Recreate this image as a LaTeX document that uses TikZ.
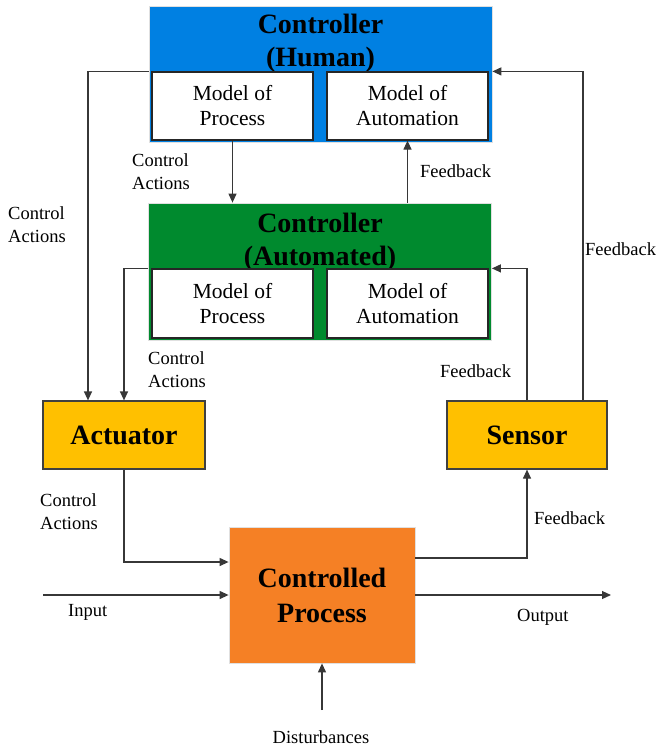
\documentclass[tikz,border=0pt]{standalone}
\usepackage{fontspec}
\setmainfont{Liberation Serif}
\usetikzlibrary{arrows.meta,positioning}

\definecolor{humanblue}{RGB}{0,128,226}
\definecolor{autogreen}{RGB}{0,138,46}
\definecolor{unitgold}{RGB}{255,192,0}
\definecolor{plantorange}{RGB}{245,128,37}
\definecolor{wire}{RGB}{55,55,55}

\tikzset{
  ctrlbox/.style   = {draw=black!12, line width=0.8pt, minimum width=343pt, minimum height=136pt},
  titletext/.style = {align=center, font=\bfseries\fontsize{28}{33}\selectfont},
  modelbox/.style  = {draw=black!85, line width=1.2pt, fill=white, minimum width=161pt,
                      minimum height=68pt, align=center, font=\fontsize{21.5}{25}\selectfont},
  unitbox/.style   = {draw=black!75, line width=1.2pt, fill=unitgold, minimum width=162pt,
                      minimum height=68pt, font=\bfseries\fontsize{28}{33}\selectfont},
  note/.style      = {anchor=west, align=left, inner sep=0pt, font=\fontsize{18.5}{23}\selectfont},
  arr/.style       = {draw=wire, line width=1.2pt, -{Triangle[length=9pt,width=8pt]}},
  wireline/.style  = {draw=wire, line width=1.2pt}
}

\begin{document}
\begin{tikzpicture}[x=1pt,y=-1pt]
        \useasboundingbox (0,0) rectangle (657,753);

        % Controller (Human)
        \node[ctrlbox, fill=humanblue]  (human)      at (320.5, 74)   {};
        \node[titletext]                (humantitle) at (320.5, 43)   {Controller\\(Human)};
        \node[modelbox]                 (hproc)      at (232.5,106)   {Model of\\Process};
        \node[modelbox]                 (hauto)      at (407.5,106)   {Model of\\Automation};

        % Controller (Automated)
        \node[ctrlbox, fill=autogreen, minimum height=137pt] (auto) at (320,271.5) {};
        \node[titletext]                (autotitle)  at (320, 242)    {Controller\\(Automated)};
        \node[modelbox, minimum height=69pt] (aproc) at (232.5,303.5) {Model of\\Process};
        \node[modelbox, minimum height=69pt] (aauto) at (407.5,303.5) {Model of\\Automation};

        % Actuator, sensor, process
        \node[unitbox]                  (act)        at (124, 435)    {Actuator};
        \node[unitbox, minimum width=160pt] (sens)   at (527, 435)    {Sensor};
        \node[draw=black!12, line width=0.8pt, fill=plantorange, minimum width=186pt,
              minimum height=136pt, align=center,
              font=\bfseries\fontsize{28}{35}\selectfont] (proc) at (322,595) {Controlled\\Process};

        % free ends
        \coordinate (leftbus)  at ( 88, 73);
        \coordinate (rightbus) at (583, 74);
        \coordinate (input)    at ( 43,595);
        \coordinate (output)   at (611,595);
        \coordinate (disturb)  at (322,710);

        % control actions
        \draw[arr] (hproc.south) -- (hproc.south |- auto.north);
        \draw[arr] (human.west |- hproc.north) -| (leftbus |- act.north);
        \draw[arr] (auto.west |- aproc.north)  -| (act.north);
        \draw[arr] (act.south) |- ([yshift=33pt]proc.west);

        % feedback
        \draw[arr] (hauto.south |- auto.north) -- (hauto.south);
        \draw[arr] (rightbus |- sens.north) |- (human.east |- hauto.north);
        \draw[arr] (sens.north) |- (auto.east |- aauto.north);
        \draw[arr] ([yshift=37pt]proc.east) -| (sens.south);

        % input, output, disturbances
        \draw[arr] (input)   -- (proc.west);
        \draw[arr] (proc.east) -- (output);
        \draw[arr] (disturb) -- (proc.south);

        % Labels
        \node[note] (ca1) at (132,172) {Control\\Actions};
        \node[note] (ca2) at (  8,225) {Control\\Actions};
        \node[note] (ca3) at (148,370) {Control\\Actions};
        \node[note] (ca4) at ( 40,512) {Control\\Actions};
        \node[note] (fb1) at (420,171) {Feedback};
        \node[note] (fb2) at (585,249) {Feedback};
        \node[note] (fb3) at (440,371) {Feedback};
        \node[note] (fb4) at (534,518) {Feedback};
        \node[note] (inlabel)  at ( 68,612) {Input};
        \node[note] (outlabel) at (517,617) {Output};
        \node[font=\fontsize{18.5}{23}\selectfont] (distlabel) at (321,737) {Disturbances};
\end{tikzpicture}
\end{document}
